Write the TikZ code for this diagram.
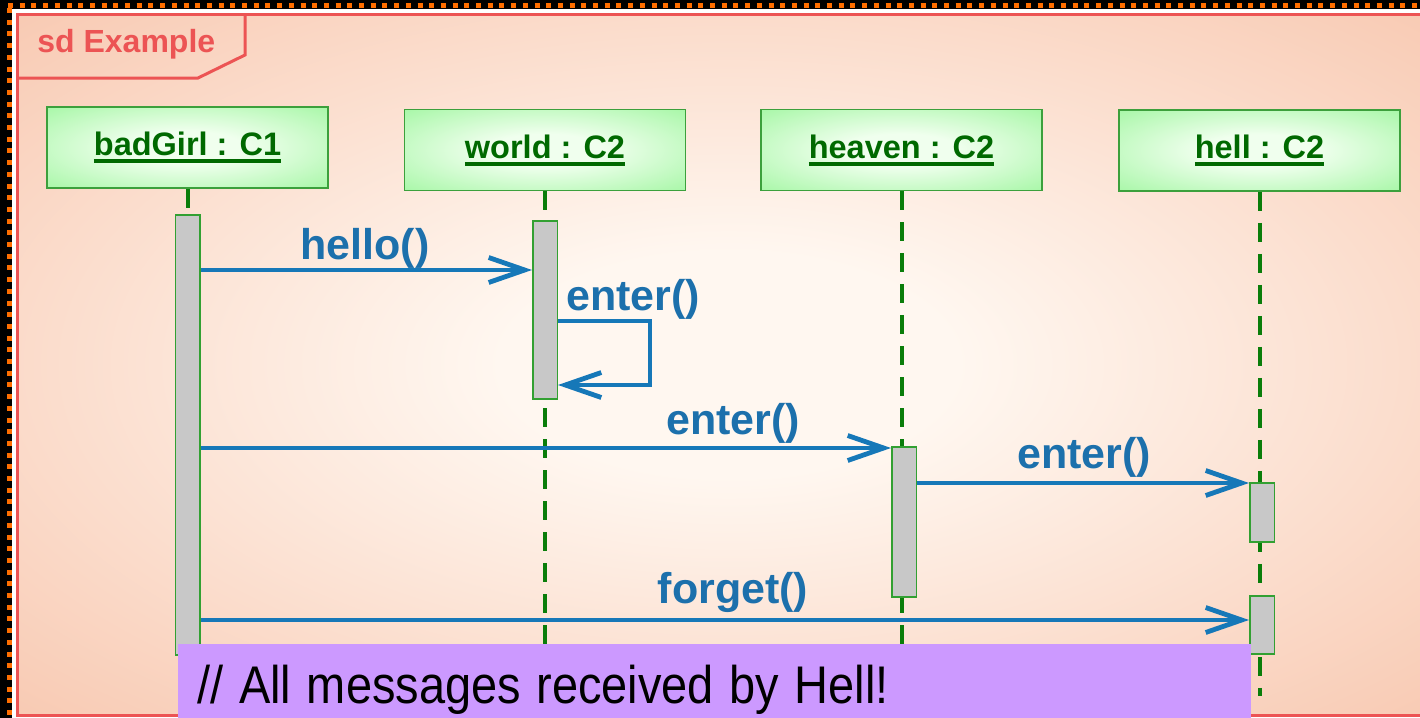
\documentclass[tikz,border=0pt]{standalone}
\usepackage{fontspec}
\setmainfont{Liberation Sans}
\usetikzlibrary{arrows.meta}
\definecolor{bgin}{RGB}{255,247,240}
\definecolor{bgout}{RGB}{246,188,160}
\definecolor{hdin}{RGB}{240,255,238}
\definecolor{hdout}{RGB}{150,245,150}
\definecolor{hdborder}{RGB}{60,160,60}
\definecolor{hdtext}{RGB}{0,105,0}
\definecolor{lifegreen}{RGB}{10,125,10}
\definecolor{actgray}{RGB}{200,200,200}
\definecolor{actborder}{RGB}{50,160,50}
\definecolor{framered}{RGB}{236,84,84}
\definecolor{msgline}{RGB}{22,120,184}
\definecolor{msgtext}{RGB}{28,112,172}
\definecolor{notefill}{RGB}{204,153,255}
\definecolor{selorange}{RGB}{255,110,0}
\pgfdeclareradialshading{bgshade}{\pgfpoint{0bp}{0bp}}{color(0bp)=(bgin); color(8bp)=(bgin); color(44bp)=(bgout); color(72bp)=(bgout)}
\pgfdeclareradialshading{hdshade}{\pgfpoint{0bp}{0bp}}{color(0bp)=(hdin); color(10bp)=(hdin); color(42bp)=(hdout); color(72bp)=(hdout)}
\newcommand{\ulname}[1]{\vtop{\hbox{#1}\kern1.8pt\hrule height 2pt}}
\tikzset{
  hdr/.style={draw=hdborder, line width=0.75pt, shade, shading=hdshade,
    minimum width=140.5pt, minimum height=40.5pt, inner sep=0pt,
    text=hdtext, font=\bfseries\fontsize{16.25}{18}\selectfont,
    text height=12pt, text depth=4pt},
  act/.style={draw=actborder, fill=actgray, line width=0.75pt,
    minimum width=12.25pt, inner sep=0pt},
  life/.style={draw=lifegreen, line width=2pt, dash pattern=on 9.5pt off 6pt},
  msg/.style={draw=msgline, line width=2pt,
    -{Straight Barb[length=18pt,width=12.5pt,line width=2.4pt]}},
  msglabel/.style={text=msgtext, font=\bfseries\fontsize{21.5}{24}\selectfont,
    anchor=base, inner sep=0pt},
}
\begin{document}
\begin{tikzpicture}[x=0.5pt,y=-0.5pt]
\useasboundingbox (0,0) rectangle (1420,718);
\clip (0,0) rectangle (1420,718);
\fill[white] (0,0) rectangle (1420,718);
% selection border
\fill[black] (0,0) rectangle (1420,9);
\fill[black] (0,0) rectangle (12,718);
\draw[selorange, line width=2.5pt, dash pattern=on 2.5pt off 3.35pt] (8,5.5) -- (1420,5.5);
\draw[selorange, line width=2.5pt, dash pattern=on 2.5pt off 3.35pt] (9.5,8) -- (9.5,718);
% frame
\shadedraw[shading=bgshade, draw=framered, line width=1.5pt] (17,14) rectangle (1440,715);
\draw[framered, line width=1.5pt] (17,78) -- (198,78) -- (245,55) -- (245,14);
\node[anchor=base west, inner sep=0pt, text=framered, font=\bfseries\fontsize{16}{18}\selectfont] (sd) at (37,52) {sd Example};
% headers
\node[hdr] (bg) at (187.5,147.5) {\ulname{badGirl : C1}};
\node[hdr] (w) at (545,150) {\ulname{world : C2}};
\node[hdr] (hv) at (901.5,150) {\ulname{heaven : C2}};
\node[hdr] (hl) at (1259.5,150.5) {\ulname{hell : C2}};
% lifeline ends
\coordinate (bgend) at (187.5,718);
\coordinate (wend) at (545,718);
\coordinate (hvend) at (901.5,718);
\coordinate (hlend) at (1259.5,696);
\draw[life] (bg.south) -- (bgend);
\draw[life] (w.south) -- (wend);
\draw[life] (hv.south) -- (hvend);
\draw[life] (hl.south) -- (hlend);
% activations
\node[act, minimum height=220pt] (bga) at (187.5,435) {};
\node[act, minimum height=89pt] (wa) at (545,310) {};
\node[act, minimum height=75pt] (hva) at (904,522) {};
\node[act, minimum height=29.5pt] (hla1) at (1262,512.5) {};
\node[act, minimum height=29pt] (hla2) at (1262,625) {};
% messages
\coordinate (y1) at (0,270);
\coordinate (s1) at (650,321);
\coordinate (s2) at (650,385);
\coordinate (y3) at (0,448);
\coordinate (y4) at (0,483);
\coordinate (y5) at (0,620);
\draw[msg] (bga.east |- y1) -- (wa.west |- y1);
\draw[msg] (wa.east |- s1) -- (s1) -- (s2) -- (wa.east |- s2);
\draw[msg] (bga.east |- y3) -- (hva.west |- y3);
\draw[msg] (hva.east |- y4) -- (hla1.west |- y4);
\draw[msg] (bga.east |- y5) -- (hla2.west |- y5);
\node[msglabel] (l1) at (365,259) {hello()};
\node[msglabel] (l2) at (633,310) {enter()};
\node[msglabel] (l3) at (733,434) {enter()};
\node[msglabel] (l4) at (1084,468) {enter()};
\node[msglabel] (l5) at (733,603) {forget()};
% note
\node[anchor=north west, fill=notefill, minimum width=536.5pt, minimum height=38pt,
  inner xsep=9.5pt, inner ysep=0pt, text width=517.5pt, align=left,
  text height=21pt, text depth=0pt, font=\fontsize{26.5}{28}\selectfont] (note) at (178,644)
  {\scalebox{0.886}[1]{// All messages received by Hell!}};
\end{tikzpicture}
\end{document}
